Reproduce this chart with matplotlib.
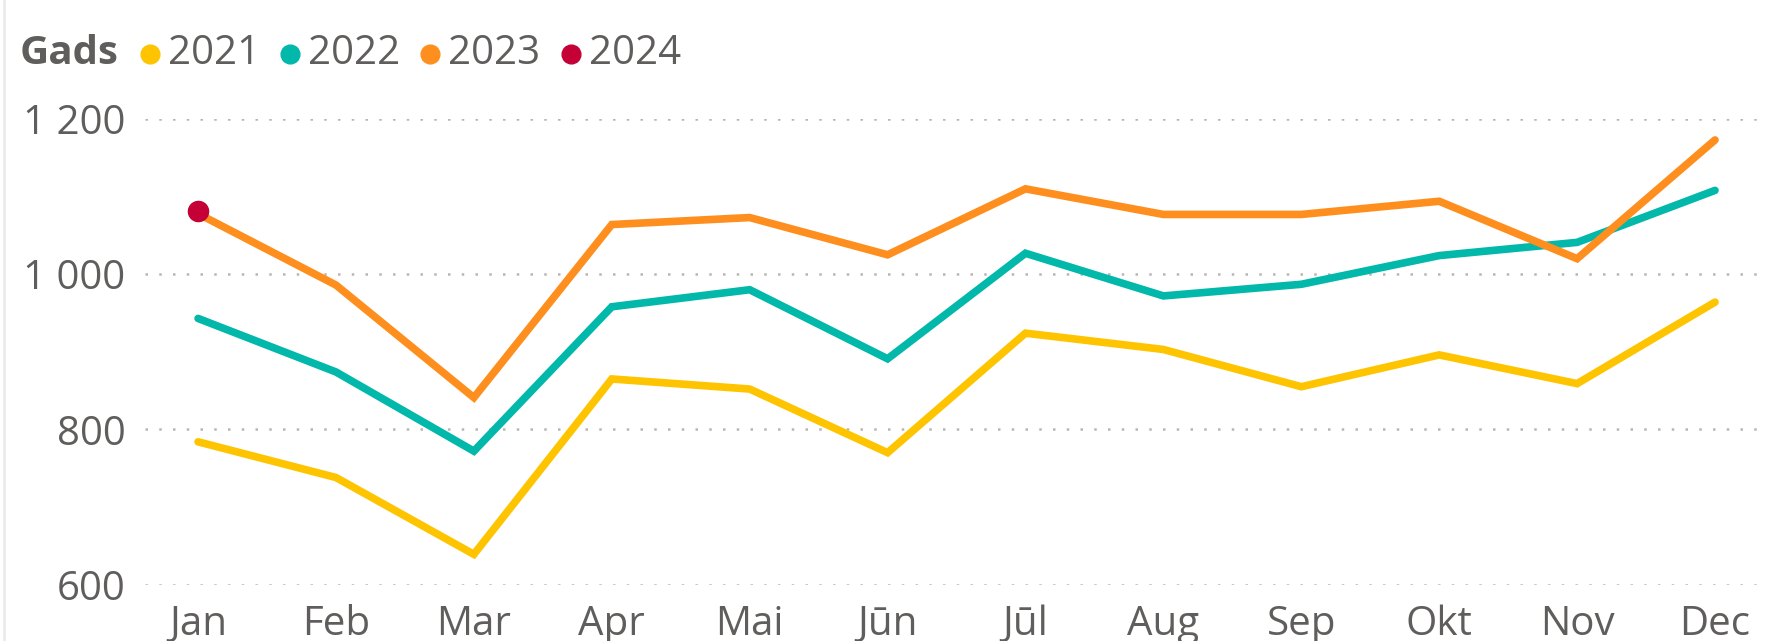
import matplotlib
matplotlib.use("Agg")
import matplotlib.pyplot as plt
from matplotlib.lines import Line2D

months = ["Jan", "Feb", "Mar", "Apr", "Mai", "Jūn", "Jūl", "Aug", "Sep", "Okt", "Nov", "Dec"]
y2021 = [784, 738, 639, 865, 852, 770, 924, 903, 855, 896, 859, 964]
y2022 = [943, 874, 772, 958, 980, 891, 1027, 972, 987, 1024, 1041, 1108]
y2023 = [1078, 986, 841, 1064, 1073, 1025, 1110, 1077, 1077, 1094, 1020, 1173]
y2024 = [1081]
years = ["2021", "2022", "2023", "2024"]
colors = ["#FEC400", "#01B8AA", "#FE8F1E", "#C50037"]
yticks = [600, 800, 1000, 1200]
ytick_labels = ["600", "800", "1 000", "1 200"]

plt.rcParams['font.family'] = ['Open Sans', 'DejaVu Sans']
W, H = 1776, 641
fig = plt.figure(figsize=(W / 100, H / 100), dpi=100)
left, right, top, bottom = 144.7, 1767, 119, 584.6
ax = fig.add_axes([left / W, 1 - bottom / H, (right - left) / W, (bottom - top) / H])

x = list(range(len(months)))
series = [y2021, y2022, y2023]
for vals, c in zip(series, colors[:3]):
    ax.plot(x[:len(vals)], vals, color=c, lw=5.5, solid_capstyle='round', solid_joinstyle='miter', zorder=3)
ax.plot(x[:len(y2024)], y2024, 'o', color=colors[3], ms=14.5, zorder=5)

ax.set_xlim(-0.387, 11.377)
ax.set_ylim(600, 1200)
ax.set_yticks(yticks)
ax.set_yticklabels(ytick_labels)
ax.set_xticks(x)
ax.set_xticklabels(months)
for s in ax.spines.values():
    s.set_visible(False)
ax.tick_params(axis='both', length=0, labelsize=29, labelcolor='#605E5C')
ax.tick_params(axis='y', pad=14)
ax.tick_params(axis='x', pad=14)
ax.grid(axis='y', color='#B8B6B4', linestyle=(0, (1, 4.5)), linewidth=1.8, zorder=0)
ax.set_axisbelow(True)

# legend
ly = 1 - 54 / H
fig.text(20 / W, ly, "Gads", fontsize=29, fontweight='bold', color='#605E5C', va='center', ha='left')
mx = [150, 290, 430, 571]
for px, yr, c in zip(mx, years, colors):
    fig.add_artist(Line2D([px / W], [ly], marker='o', ms=13.5, color=c, linestyle='none'))
    fig.text((px + 18) / W, ly, yr, fontsize=29, color='#605E5C', va='center', ha='left')

# page edge
fig.add_artist(Line2D([4 / W, 4 / W], [0, 1], color='#EDEBE9', lw=2))

fig.savefig("out.png", dpi=100, facecolor='white')
